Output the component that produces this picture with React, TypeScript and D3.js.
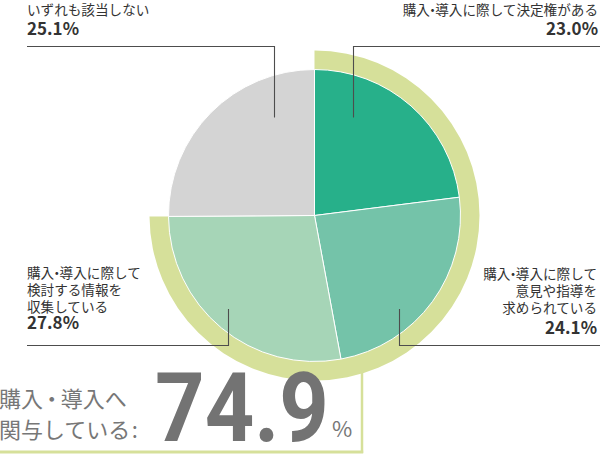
import React from "react";
import * as d3 from "d3";

// ---- data ----
const categories: string[][] = [
  ["購入・導入に際して決定権がある"],
  ["購入・導入に際して", "意見や指導を", "求められている"],
  ["購入・導入に際して", "検討する情報を", "収集している"],
  ["いずれも該当しない"],
];
const values: number[] = [23.0, 24.1, 27.8, 25.1];
const involvedCount = 3; // first three slices = involved
const colors: string[] = ["#27b08a", "#74c3a9", "#a6d5b7", "#d4d4d4"];
const summaryLines: string[] = ["購入・導入へ", "関与している:"];

// ---- layout ----
const W = 600;
const H = 454;
const cx = 314.5;
const cy = 215.5;
const R = 146;
const bandOuter = 165;
const FONT = "'Noto Sans CJK JP', 'Noto Sans', sans-serif";
const LABEL_FS = 13.6;

type LabelLayout = {
  x: number;
  anchor: "start" | "end";
  lineY: number[];
  pctY: number;
  leader: { ax: number; ay: number; hy: number; hx: number };
};

const layout: LabelLayout[] = [
  { x: 598, anchor: "end", lineY: [15], pctY: 35, leader: { ax: 38, ay: -98, hy: 46.5, hx: 600 } },
  { x: 597, anchor: "end", lineY: [279, 296, 313], pctY: 334, leader: { ax: 84, ay: 93.5, hy: 345.5, hx: 600 } },
  { x: 27, anchor: "start", lineY: [278, 295, 312], pctY: 329, leader: { ax: -87, ay: 93.5, hy: 345.5, hx: 27 } },
  { x: 27, anchor: "start", lineY: [15], pctY: 35, leader: { ax: -40.5, ay: -98, hy: 46.5, hx: 27 } },
];

// narrow the full-width middle dot like proportional typesetting
function jp(s: string, fs: number, k: number) {
  const parts = s.split("・");
  const out: React.ReactNode[] = [];
  parts.forEach((p, i) => {
    if (i > 0) {
      out.push(
        <tspan key={"d" + i} dx={-k * fs}>
          ・
        </tspan>
      );
      out.push(
        <tspan key={"p" + i} dx={-k * fs}>
          {p}
        </tspan>
      );
    } else {
      out.push(<tspan key={"p" + i}>{p}</tspan>);
    }
  });
  return out;
}

export default function App() {
  const pie = d3
    .pie<number>()
    .sort(null)
    .value((d) => d)
    .startAngle(0)
    .endAngle(2 * Math.PI);
  const arcs = pie(values);
  const arc = d3.arc<d3.PieArcDatum<number>>().innerRadius(0).outerRadius(R);

  const involved = d3.sum(values.slice(0, involvedCount));
  const angle = d3.scaleLinear().domain([0, 100]).range([0, 2 * Math.PI]);
  const bandPath =
    d3.arc()({
      innerRadius: R - 1,
      outerRadius: bandOuter,
      startAngle: 0,
      endAngle: angle(involved),
    } as any) || "";

  return (
    <svg
      width={W}
      height={H}
      style={{ position: "absolute", left: 0, top: 0, background: "#fff" }}
      fontFamily={FONT}
    >
      {/* summary box */}
      <g fill="none" stroke="#d6e09a">
        <line x1={362} y1={360} x2={362} y2={453} strokeWidth={2.5} />
        <line x1={0} y1={452} x2={363.2} y2={452} strokeWidth={3} />
      </g>

      <g transform={`translate(${cx},${cy})`}>
        <path d={bandPath} fill="#d6e09a" />
        {arcs.map((a, i) => (
          <path key={i} d={arc(a) || ""} fill={colors[i]} stroke="#fff" strokeWidth={1} />
        ))}
      </g>

      {/* leaders */}
      <g fill="none" stroke="#4d4d4d" strokeWidth={1.1}>
        {layout.map((l, i) => {
          const x = Math.round(cx + l.leader.ax) + 0.5;
          const y = cy + l.leader.ay;
          return <path key={i} d={`M${x},${y} V${l.leader.hy} H${l.leader.hx}`} />;
        })}
      </g>

      {/* labels */}
      {layout.map((l, i) => (
        <g key={i} textAnchor={l.anchor} fill="#333">
          {categories[i].map((line, j) => (
            <text key={j} x={l.x} y={l.lineY[j]} fontSize={LABEL_FS}>
              {jp(line, LABEL_FS, 0.3)}
            </text>
          ))}
          <text x={l.x} y={l.pctY} fontSize={17} fontWeight="bold">
            {values[i].toFixed(1)}%
          </text>
        </g>
      ))}

      {/* summary */}
      <g fill="#777">
        <text x={-1} y={407} fontSize={22}>
          {jp(summaryLines[0], 22, 0.1)}
        </text>
        <text x={-1} y={438} fontSize={22}>
          {summaryLines[1].slice(0, -1)}
          <tspan dx={1.5}>{summaryLines[1].slice(-1)}</tspan>
        </text>
        <text
          x={155}
          y={441}
          fontSize={97}
          fontWeight="bold"
          fill="#737373"
          fontFamily="Roboto, sans-serif"
          textLength={174}
          lengthAdjust="spacingAndGlyphs"
        >
          {involved.toFixed(1)}
        </text>
        <text x={332} y={437} fontSize={22}>
          %
        </text>
      </g>
    </svg>
  );
}
